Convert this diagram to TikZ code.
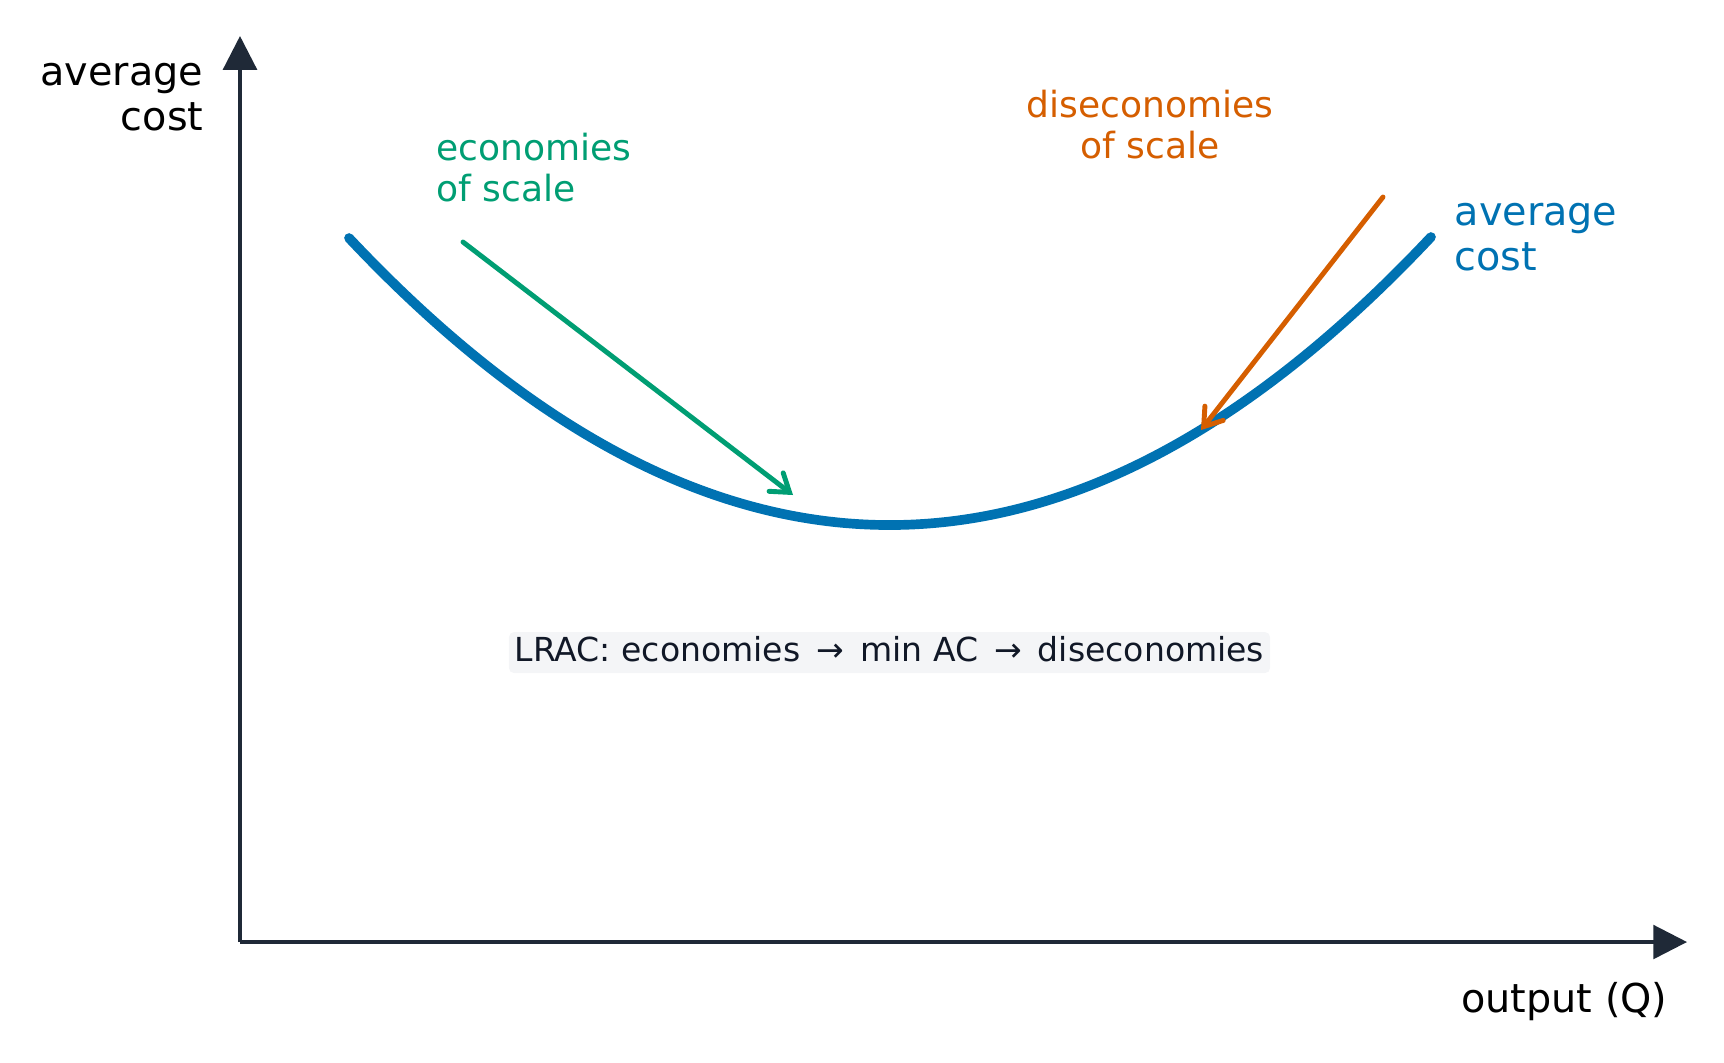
\documentclass[tikz,border=0pt]{standalone}
\usepackage{fontspec}
\setmainfont{DejaVu Sans}
\usetikzlibrary{arrows.meta}
\definecolor{axisink}{HTML}{1F2937}
\definecolor{acblue}{HTML}{0072B2}
\definecolor{ecogreen}{HTML}{009E73}
\definecolor{disorange}{HTML}{D55E00}
\definecolor{boxgray}{HTML}{F4F5F7}
\definecolor{boxink}{HTML}{111827}

\begin{document}
\begin{tikzpicture}[x = 0.01cm, y = -0.01cm,
    axis/.style = {draw = axisink, line width = 0.94pt, -{Triangle[length = 9.6pt, width = 9.6pt]}},
    pointer/.style = {line width = 1.4pt, line cap = round,
      -{Straight Barb[length = 4.8pt, width = 6.6pt, line cap = round]}},
    biglabel/.style = {font = \fontsize{11.3}{12.8}\selectfont, inner sep = 0pt},
    smalllabel/.style = {font = \fontsize{10.25}{11.6}\selectfont, inner sep = 0pt}]
 \useasboundingbox (0,0) rectangle (1724,1062);

 % axes
 \coordinate (origin) at (240,942);
 \coordinate (ytop) at (240,36);
 \coordinate (xend) at (1687,942);
 \draw[axis] (origin) -- (ytop);
 \draw[axis] (origin) -- (xend);
 \node[biglabel, align = right, anchor = base east] (ylabel) at (204,130) {average\\cost};
 \node[biglabel, anchor = base east] (xlabel) at (1668,1012) {output (Q)};

 % long-run average cost curve
 \coordinate (acleft) at (349,238);
 \coordinate (acright) at (1431,237);
 \draw[acblue, line width = 2.75pt, line cap = round]
   (acleft) .. controls (709.7,621) and (1070.3,620.7) .. (acright);
 \node[biglabel, text = acblue, align = left, anchor = base west] (aclabel) at (1454,270) {average\\cost};

 % economies of scale
 \coordinate (ecostart) at (463,242);
 \coordinate (ecotip) at (793,495);
 \node[smalllabel, text = ecogreen, align = left, anchor = base west] (ecolabel) at (436,201) {economies\\of scale};
 \draw[pointer, ecogreen] (ecostart) -- (ecotip);

 % diseconomies of scale
 \coordinate (disstart) at (1383,197);
 \coordinate (distip) at (1201,430);
 \node[smalllabel, text = disorange, align = center, anchor = base] (dislabel) at (1150,158) {diseconomies\\of scale};
 \draw[pointer, disorange] (disstart) -- (distip);

 % summary
 \node[fill = boxgray, text = boxink, rounded corners = 1.5pt, font = \fontsize{9.4}{11}\selectfont,
   text height = 0.76em, text depth = 0.24em, inner xsep = 1.7pt, inner ysep = 0.85pt, anchor = base]
   (summary) at (889.5,661.7) {LRAC: economies \,→\, min AC \,→\, diseconomies};
\end{tikzpicture}
\end{document}
